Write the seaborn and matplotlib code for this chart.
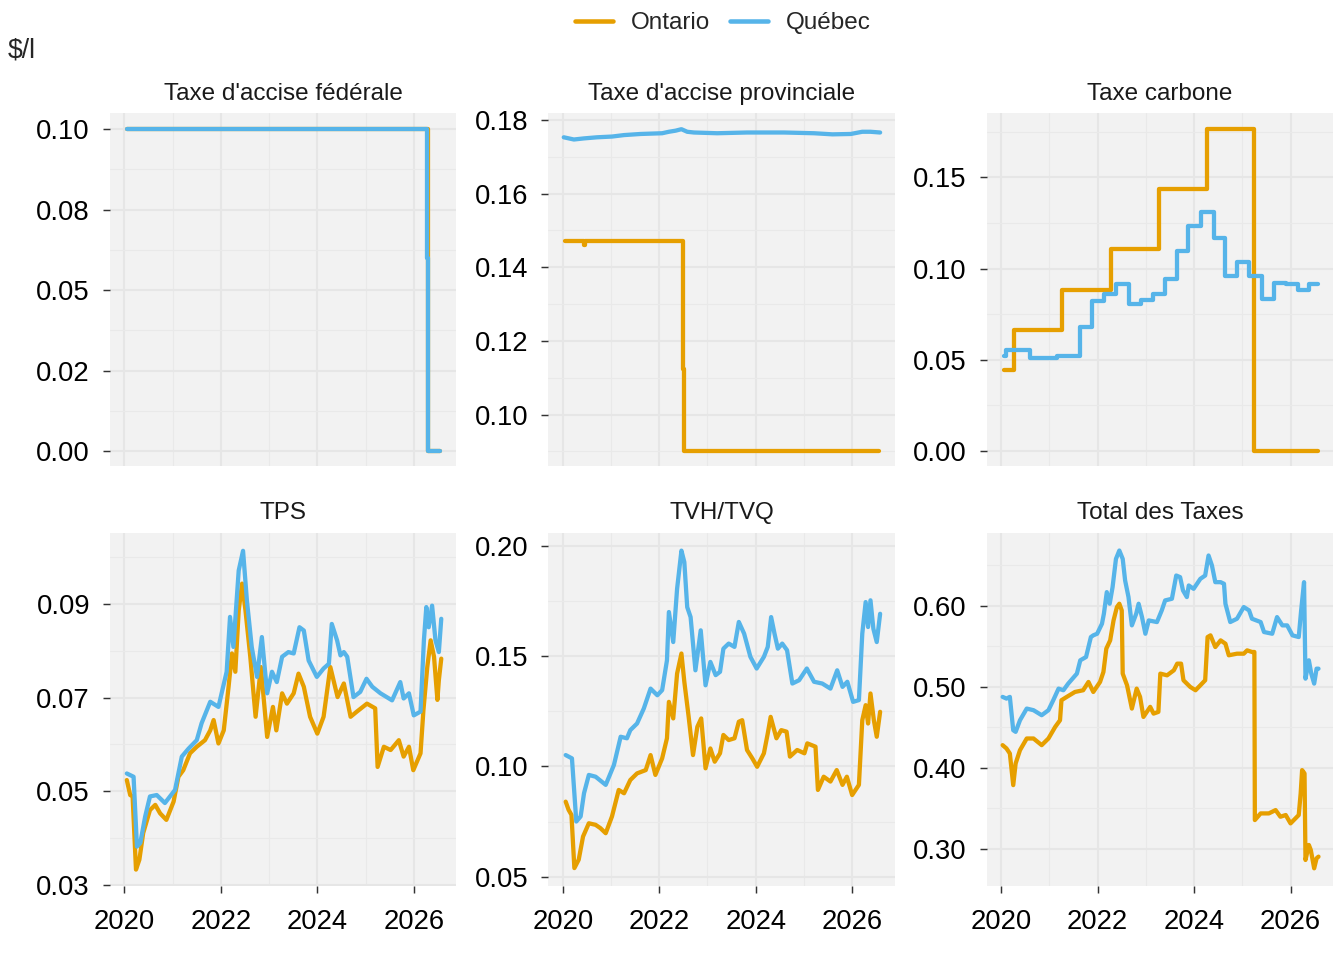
import numpy as np
import pandas as pd
import matplotlib
matplotlib.use("Agg")
import matplotlib.pyplot as plt
import seaborn as sns
from matplotlib.lines import Line2D
from matplotlib.ticker import FixedLocator

ON_COLOR = "#E69F00"
QC_COLOR = "#56B4E9"

# Taxe d'accise fédérale ($/l)
fed_on_year = [2020.05, 2026.29, 2026.55]
fed_on = [0.10, 0.0, 0.0]
fed_qc_year = [2020.05, 2026.28, 2026.30, 2026.55]
fed_qc = [0.10, 0.06, 0.0, 0.0]

# Taxe d'accise provinciale
prov_on_year = [2020.04, 2020.44, 2020.46, 2022.49, 2022.51, 2026.56]
prov_on = [0.147, 0.146, 0.147, 0.1124, 0.090, 0.090]
prov_qc_year = [2020.02, 2020.23, 2020.44, 2020.71, 2021.02, 2021.27, 2021.61, 2022.06,
                2022.20, 2022.34, 2022.46, 2022.58, 2022.72, 2023.20, 2023.82, 2024.59,
                2025.21, 2025.59, 2025.97, 2026.21, 2026.38, 2026.58]
prov_qc = [0.1753, 0.1747, 0.1750, 0.1753, 0.1755, 0.1759, 0.1762, 0.1764,
           0.1768, 0.1771, 0.1775, 0.1768, 0.1766, 0.1764, 0.1766, 0.1766,
           0.1764, 0.1761, 0.1762, 0.1768, 0.1768, 0.1766]

# Taxe carbone
carb_on_year = [2020.05, 2020.26, 2021.26, 2022.27, 2023.27, 2024.26, 2025.25, 2026.56]
carb_on = [0.0443, 0.0666, 0.0885, 0.1107, 0.1434, 0.1765, 0.0, 0.0]
carb_qc_year = [2020.05, 2020.10, 2020.60, 2021.16, 2021.63, 2021.88, 2022.13, 2022.38,
                2022.65, 2022.89, 2023.15, 2023.39, 2023.64, 2023.88, 2024.14, 2024.41,
                2024.64, 2024.90, 2025.14, 2025.41, 2025.66, 2025.90, 2026.15, 2026.39,
                2026.57]
carb_qc = [0.0520, 0.0553, 0.0512, 0.0523, 0.0681, 0.0823, 0.0863, 0.0918,
           0.0805, 0.0827, 0.0863, 0.0944, 0.1098, 0.1233, 0.1312, 0.1167,
           0.0959, 0.1034, 0.0959, 0.0834, 0.0922, 0.0918, 0.0882, 0.0918,
           0.0918]

# TPS
tps_on_year = [2020.05, 2020.12, 2020.17, 2020.24, 2020.31, 2020.39, 2020.53, 2020.64,
               2020.74, 2020.87, 2021.02, 2021.12, 2021.22, 2021.36, 2021.50, 2021.67,
               2021.78, 2021.85, 2021.95, 2022.06, 2022.16, 2022.23, 2022.30, 2022.37,
               2022.44, 2022.51, 2022.61, 2022.72, 2022.83, 2022.96, 2023.08, 2023.15,
               2023.27, 2023.37, 2023.51, 2023.61, 2023.72, 2023.85, 2024.00, 2024.13,
               2024.27, 2024.42, 2024.55, 2024.69, 2024.82, 2025.03, 2025.20, 2025.25,
               2025.38, 2025.52, 2025.69, 2025.79, 2025.90, 2025.99, 2026.14, 2026.20,
               2026.28, 2026.35, 2026.42, 2026.49, 2026.52, 2026.57]
tps_on = [0.0524, 0.0492, 0.0489, 0.0333, 0.0354, 0.0411, 0.0460, 0.0471,
          0.0453, 0.0439, 0.0478, 0.0531, 0.0545, 0.0581, 0.0595, 0.0609,
          0.0630, 0.0652, 0.0602, 0.0630, 0.0723, 0.0794, 0.0755, 0.0886,
          0.0943, 0.0886, 0.0787, 0.0659, 0.0765, 0.0616, 0.0680, 0.0630,
          0.0709, 0.0687, 0.0709, 0.0751, 0.0723, 0.0659, 0.0623, 0.0659,
          0.0765, 0.0701, 0.0730, 0.0659, 0.0670, 0.0687, 0.0677, 0.0552,
          0.0595, 0.0588, 0.0609, 0.0574, 0.0595, 0.0545, 0.0581, 0.0673,
          0.0765, 0.0822, 0.0787, 0.0695, 0.0737, 0.0783]
tps_qc_year = [2020.05, 2020.19, 2020.26, 2020.33, 2020.43, 2020.53, 2020.67, 2020.84,
               2021.05, 2021.19, 2021.33, 2021.50, 2021.60, 2021.78, 2021.95, 2022.12,
               2022.19, 2022.26, 2022.37, 2022.46, 2022.54, 2022.64, 2022.75, 2022.85,
               2022.96, 2023.06, 2023.16, 2023.27, 2023.40, 2023.51, 2023.63, 2023.72,
               2023.82, 2023.99, 2024.13, 2024.24, 2024.30, 2024.41, 2024.48, 2024.55,
               2024.62, 2024.75, 2024.89, 2025.02, 2025.14, 2025.31, 2025.55, 2025.72,
               2025.79, 2025.90, 2026.00, 2026.14, 2026.21, 2026.26, 2026.31, 2026.38,
               2026.45, 2026.52, 2026.57]
tps_qc = [0.0538, 0.0531, 0.0382, 0.0390, 0.0446, 0.0489, 0.0492, 0.0475,
          0.0503, 0.0574, 0.0591, 0.0609, 0.0645, 0.0691, 0.0680, 0.0755,
          0.0872, 0.0808, 0.0971, 0.1013, 0.0907, 0.0808, 0.0744, 0.0829,
          0.0709, 0.0755, 0.0733, 0.0787, 0.0797, 0.0794, 0.0850, 0.0843,
          0.0779, 0.0744, 0.0762, 0.0772, 0.0857, 0.0822, 0.0790, 0.0797,
          0.0787, 0.0701, 0.0712, 0.0740, 0.0723, 0.0709, 0.0694, 0.0733,
          0.0698, 0.0709, 0.0662, 0.0670, 0.0822, 0.0893, 0.0850, 0.0896,
          0.0822, 0.0797, 0.0868]

# TVH (Ontario) / TVQ (Québec)
tvh_on_year = [2020.06, 2020.12, 2020.18, 2020.24, 2020.33, 2020.42, 2020.54, 2020.68,
               2020.78, 2020.89, 2021.02, 2021.16, 2021.27, 2021.40, 2021.54, 2021.72,
               2021.82, 2021.92, 2022.06, 2022.16, 2022.20, 2022.29, 2022.37, 2022.46,
               2022.52, 2022.61, 2022.70, 2022.79, 2022.87, 2022.96, 2023.06, 2023.15,
               2023.26, 2023.33, 2023.44, 2023.56, 2023.65, 2023.72, 2023.82, 2023.93,
               2024.03, 2024.17, 2024.25, 2024.31, 2024.43, 2024.53, 2024.64, 2024.71,
               2024.86, 2025.01, 2025.07, 2025.24, 2025.29, 2025.41, 2025.55, 2025.68,
               2025.80, 2025.89, 2026.00, 2026.14, 2026.21, 2026.28, 2026.33, 2026.38,
               2026.45, 2026.51, 2026.58]
tvh_on = [0.0840, 0.0803, 0.0780, 0.0539, 0.0577, 0.0682, 0.0742, 0.0735,
          0.0720, 0.0697, 0.0773, 0.0893, 0.0878, 0.0938, 0.0968, 0.0983,
          0.1051, 0.0961, 0.1036, 0.1127, 0.1292, 0.1217, 0.1420, 0.1511,
          0.1383, 0.1224, 0.1051, 0.1179, 0.1217, 0.0991, 0.1081, 0.1021,
          0.1059, 0.1142, 0.1119, 0.1127, 0.1202, 0.1209, 0.1074, 0.1036,
          0.0998, 0.1059, 0.1149, 0.1224, 0.1127, 0.1164, 0.1157, 0.1044,
          0.1074, 0.1059, 0.1104, 0.1089, 0.0893, 0.0953, 0.0931, 0.0983,
          0.0916, 0.0953, 0.0870, 0.0916, 0.1209, 0.1277, 0.1194, 0.1330,
          0.1209, 0.1134, 0.1247]
tvq_qc_year = [2020.06, 2020.19, 2020.28, 2020.37, 2020.44, 2020.54, 2020.68, 2020.89,
               2021.06, 2021.20, 2021.33, 2021.40, 2021.54, 2021.68, 2021.82, 2021.96,
               2022.06, 2022.16, 2022.20, 2022.29, 2022.37, 2022.46, 2022.52, 2022.58,
               2022.65, 2022.75, 2022.86, 2022.96, 2023.06, 2023.17, 2023.26, 2023.33,
               2023.44, 2023.56, 2023.65, 2023.76, 2023.89, 2024.02, 2024.17, 2024.25,
               2024.32, 2024.39, 2024.46, 2024.55, 2024.65, 2024.76, 2024.90, 2025.06,
               2025.21, 2025.38, 2025.55, 2025.69, 2025.80, 2025.90, 2026.02, 2026.14,
               2026.21, 2026.28, 2026.33, 2026.38, 2026.44, 2026.51, 2026.58]
tvq_qc = [0.1051, 0.1036, 0.0750, 0.0773, 0.0878, 0.0961, 0.0953, 0.0916,
          0.1006, 0.1134, 0.1127, 0.1164, 0.1194, 0.1262, 0.1352, 0.1322,
          0.1345, 0.1480, 0.1699, 0.1563, 0.1804, 0.1977, 0.1925, 0.1721,
          0.1676, 0.1435, 0.1616, 0.1367, 0.1473, 0.1413, 0.1428, 0.1533,
          0.1556, 0.1541, 0.1654, 0.1601, 0.1496, 0.1443, 0.1496, 0.1541,
          0.1676, 0.1601, 0.1533, 0.1556, 0.1526, 0.1375, 0.1390, 0.1443,
          0.1383, 0.1375, 0.1352, 0.1435, 0.1360, 0.1383, 0.1292, 0.1300,
          0.1601, 0.1744, 0.1631, 0.1752, 0.1623, 0.1563, 0.1691]

# Total des Taxes
tot_on_year = [2020.03, 2020.11, 2020.18, 2020.25, 2020.30, 2020.39, 2020.53, 2020.67,
               2020.84, 2020.98, 2021.12, 2021.22, 2021.25, 2021.36, 2021.53, 2021.70,
               2021.81, 2021.91, 2022.05, 2022.12, 2022.18, 2022.26, 2022.33, 2022.40,
               2022.45, 2022.50, 2022.52, 2022.61, 2022.71, 2022.81, 2022.88, 2022.95,
               2023.09, 2023.16, 2023.26, 2023.30, 2023.44, 2023.58, 2023.65, 2023.73,
               2023.78, 2023.92, 2024.03, 2024.13, 2024.23, 2024.28, 2024.34, 2024.44,
               2024.55, 2024.65, 2024.72, 2024.89, 2025.03, 2025.10, 2025.20, 2025.25,
               2025.26, 2025.38, 2025.55, 2025.69, 2025.79, 2025.90, 2026.00, 2026.17,
               2026.21, 2026.24, 2026.29, 2026.31, 2026.38, 2026.42, 2026.49, 2026.54,
               2026.58]
tot_on = [0.4281, 0.4240, 0.4178, 0.3788, 0.4055, 0.4219, 0.4363, 0.4363,
          0.4281, 0.4363, 0.4506, 0.4588, 0.4835, 0.4876, 0.4937, 0.4958,
          0.5060, 0.4937, 0.5060, 0.5183, 0.5471, 0.5573, 0.5819, 0.5984,
          0.6025, 0.5943, 0.5163, 0.5019, 0.4732, 0.4978, 0.4876, 0.4629,
          0.4753, 0.4670, 0.4691, 0.5163, 0.5142, 0.5204, 0.5286, 0.5286,
          0.5081, 0.4999, 0.4958, 0.5019, 0.5081, 0.5614, 0.5635, 0.5491,
          0.5573, 0.5532, 0.5389, 0.5409, 0.5409, 0.5450, 0.5430, 0.5430,
          0.3357, 0.3439, 0.3439, 0.3480, 0.3398, 0.3419, 0.3316, 0.3419,
          0.3686, 0.3973, 0.3932, 0.2865, 0.3050, 0.2988, 0.2762, 0.2885,
          0.2906]
tot_qc_year = [2020.03, 2020.11, 2020.18, 2020.25, 2020.30, 2020.39, 2020.53, 2020.67,
               2020.84, 2020.98, 2021.08, 2021.19, 2021.29, 2021.39, 2021.57, 2021.64,
               2021.76, 2021.86, 2021.91, 2021.99, 2022.09, 2022.13, 2022.19, 2022.25,
               2022.31, 2022.38, 2022.45, 2022.52, 2022.57, 2022.64, 2022.71, 2022.80,
               2022.85, 2022.92, 2022.99, 2023.06, 2023.23, 2023.33, 2023.40, 2023.54,
               2023.63, 2023.71, 2023.77, 2023.85, 2023.89, 2023.99, 2024.13, 2024.23,
               2024.30, 2024.37, 2024.44, 2024.55, 2024.62, 2024.65, 2024.75, 2024.89,
               2025.03, 2025.14, 2025.20, 2025.38, 2025.45, 2025.62, 2025.72, 2025.83,
               2025.93, 2026.04, 2026.17, 2026.22, 2026.28, 2026.31, 2026.38, 2026.43,
               2026.49, 2026.54, 2026.58]
tot_qc = [0.4876, 0.4855, 0.4876, 0.4465, 0.4445, 0.4588, 0.4732, 0.4712,
          0.4650, 0.4712, 0.4835, 0.4978, 0.4958, 0.5040, 0.5163, 0.5327,
          0.5368, 0.5614, 0.5635, 0.5655, 0.5778, 0.5902, 0.6168, 0.6025,
          0.6230, 0.6578, 0.6681, 0.6578, 0.6312, 0.6107, 0.5758, 0.5902,
          0.6025, 0.5860, 0.5655, 0.5819, 0.5799, 0.5943, 0.6066, 0.6086,
          0.6373, 0.6353, 0.6189, 0.6107, 0.6250, 0.6209, 0.6332, 0.6373,
          0.6620, 0.6497, 0.6291, 0.6291, 0.6271, 0.6025, 0.5799, 0.5840,
          0.5984, 0.5943, 0.5840, 0.5799, 0.5676, 0.5655, 0.5860, 0.5758,
          0.5758, 0.5635, 0.5614, 0.5943, 0.6291, 0.5101, 0.5327, 0.5163,
          0.5040, 0.5224, 0.5224]

# axis ticks per panel
fed_ticks = [0.0, 0.025, 0.05, 0.075, 0.10]
fed_labels = ["0.00", "0.02", "0.05", "0.08", "0.10"]
prov_ticks = [0.10, 0.12, 0.14, 0.16, 0.18]
carb_ticks = [0.0, 0.05, 0.10, 0.15]
tps_ticks = [0.03, 0.05, 0.07, 0.09]
tvh_ticks = [0.05, 0.10, 0.15, 0.20]
tot_ticks = [0.30, 0.40, 0.50, 0.60]
year_ticks = [2020, 2022, 2024, 2026]

panels = [
    ("Taxe d'accise fédérale", fed_on_year, fed_on, fed_qc_year, fed_qc, "steps-post", "steps-post",
     (-0.0047, 0.105), fed_ticks, fed_labels),
    ("Taxe d'accise provinciale", prov_on_year, prov_on, prov_qc_year, prov_qc, "steps-post", "default",
     (0.0859, 0.1819), prov_ticks, None),
    ("Taxe carbone", carb_on_year, carb_on, carb_qc_year, carb_qc, "steps-post", "steps-post",
     (-0.0084, 0.1853), carb_ticks, None),
    ("TPS", tps_on_year, tps_on, tps_qc_year, tps_qc, "default", "default",
     (0.0298, 0.1052), tps_ticks, None),
    ("TVH/TVQ", tvh_on_year, tvh_on, tvq_qc_year, tvq_qc, "default", "default",
     (0.0458, 0.2059), tvh_ticks, None),
    ("Total des Taxes", tot_on_year, tot_on, tot_qc_year, tot_qc, "default", "default",
     (0.2544, 0.6903), tot_ticks, None),
]

sns.set_style("white", {"axes.facecolor": "#F2F2F2"})
plt.rcParams["font.family"] = ["Liberation Sans", "DejaVu Sans"]

fig, axes = plt.subplots(2, 3, figsize=(14, 10), dpi=96, sharex=True)
fig.subplots_adjust(left=0.0818, right=0.9918, bottom=0.0771, top=0.8823,
                    wspace=0.266, hspace=0.187)

for ax, (title, on_x, on_y, qc_x, qc_y, on_ds, qc_ds, ylim, ticks, labels) in zip(axes.flat, panels):
    sns.lineplot(x=on_x, y=on_y, ax=ax, color=ON_COLOR, linewidth=3.2, drawstyle=on_ds,
                 estimator=None, sort=False)
    sns.lineplot(x=qc_x, y=qc_y, ax=ax, color=QC_COLOR, linewidth=3.2, drawstyle=qc_ds,
                 estimator=None, sort=False)

    ax.set_title(title, fontsize=18.2, pad=10, color="#1a1a1a")
    ax.set_xlim(2019.70, 2026.88)
    ax.set_ylim(*ylim)

    minors = [(a + b) / 2 for a, b in zip(ticks[:-1], ticks[1:])]
    step = ticks[1] - ticks[0]
    minors = [ticks[0] - step / 2] + minors + [ticks[-1] + step / 2]
    ax.yaxis.set_major_locator(FixedLocator(ticks))
    ax.yaxis.set_minor_locator(FixedLocator(minors))
    if labels is None:
        labels = [f"{t:.2f}" for t in ticks]
    ax.set_yticklabels(labels)

    ax.xaxis.set_major_locator(FixedLocator(year_ticks))
    ax.xaxis.set_minor_locator(FixedLocator([2019, 2021, 2023, 2025, 2027]))

    ax.grid(which="major", color="#E6E6E6", lw=1.6)
    ax.grid(which="minor", color="#E9E9E9", lw=0.8)
    ax.set_axisbelow(True)
    for s in ax.spines.values():
        s.set_visible(False)
    ax.tick_params(axis="y", which="major", left=True, length=5, width=1.1,
                   color="#333333", labelsize=20.5, pad=10, labelcolor="black")
    ax.tick_params(axis="x", which="major", bottom=True, length=5, width=1.1,
                   color="#333333", labelsize=20.5, pad=12, labelcolor="black")
    ax.tick_params(which="minor", length=0)
    ax.set_xlabel("")
    ax.set_ylabel("")

for ax in axes[0]:
    ax.tick_params(axis="x", which="major", bottom=False, labelbottom=False)
axes[1][0].set_xticklabels([str(y) for y in year_ticks])

handles = [Line2D([], [], color=ON_COLOR, lw=3.4),
           Line2D([], [], color=QC_COLOR, lw=3.4)]
fig.legend(handles, ["Ontario", "Québec"], loc="center", bbox_to_anchor=(0.538, 1 - 23 / 960),
           ncol=2, frameon=False, fontsize=18.2, handlelength=1.55, handletextpad=0.75,
           columnspacing=0.8)
fig.text(0.006, 1 - 50 / 960, "$/l", fontsize=20, va="center", ha="left")

fig.savefig("out.png", dpi=96)
